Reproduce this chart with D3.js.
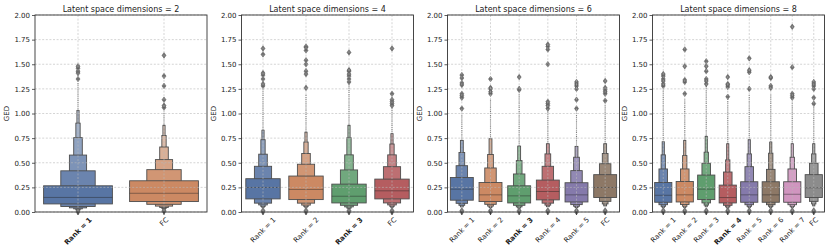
<!DOCTYPE html>
<html>
<head>
<meta charset="utf-8">
<script src="https://cdn.jsdelivr.net/npm/d3@7"></script>
<style>
  body { margin: 0; background: #fff; }
  svg { font-family: "DejaVu Sans", sans-serif; }
</style>
</head>
<body>
<svg id="chart" width="831" height="252"></svg>
<script>
// Latent space dimensions shown in each panel
const dims = [2, 4, 6, 8];

// Categories per panel (bold = best rank)
const cats_d2 = ["Rank = 1", "FC"];
const cats_d4 = ["Rank = 1", "Rank = 2", "Rank = 3", "FC"];
const cats_d6 = ["Rank = 1", "Rank = 2", "Rank = 3", "Rank = 4", "Rank = 5", "FC"];
const cats_d8 = ["Rank = 1", "Rank = 2", "Rank = 3", "Rank = 4", "Rank = 5", "Rank = 6", "Rank = 7", "FC"];
const boldCat = ["Rank = 1", "Rank = 3", "Rank = 3", "Rank = 4"];

// Medians
const median_d2 = [0.148, 0.19];
const median_d4 = [0.249, 0.229, 0.16, 0.215];
const median_d6 = [0.232, 0.174, 0.164, 0.208, 0.174, 0.249];
const median_d8 = [0.17, 0.174, 0.232, 0.147, 0.174, 0.174, 0.18, 0.246];

// Letter-value box upper edges (innermost box first)
const upper_d2 = [[0.266, 0.418, 0.578, 0.755, 0.902, 1.03], [0.317, 0.43, 0.532, 0.66, 0.777, 0.88]];
const upper_d4 = [[0.338, 0.464, 0.587, 0.734, 0.83], [0.365, 0.485, 0.594, 0.71, 0.81],
                  [0.283, 0.427, 0.58, 0.754, 0.88], [0.334, 0.46, 0.58, 0.69, 0.795]];
const upper_d6 = [[0.35, 0.47, 0.604, 0.727], [0.30, 0.447, 0.584, 0.744], [0.266, 0.386, 0.522, 0.669],
                  [0.324, 0.464, 0.59, 0.693], [0.297, 0.42, 0.556, 0.666], [0.379, 0.49, 0.594, 0.693]];
const upper_d8 = [[0.30, 0.437, 0.58, 0.713], [0.31, 0.437, 0.573, 0.727], [0.375, 0.495, 0.607, 0.768],
                  [0.273, 0.406, 0.529, 0.693], [0.307, 0.46, 0.59, 0.734], [0.307, 0.433, 0.597, 0.71],
                  [0.307, 0.437, 0.556, 0.693], [0.379, 0.495, 0.59, 0.693]];

// Letter-value box lower edges (innermost box first)
const lower_d2 = [[0.082, 0.056, 0.042, 0.032, 0.024, 0.018], [0.106, 0.078, 0.06, 0.046, 0.036, 0.028]];
const lower_d4 = [[0.133, 0.09, 0.072, 0.056, 0.044], [0.126, 0.09, 0.07, 0.055, 0.043],
                  [0.092, 0.068, 0.052, 0.04, 0.032], [0.133, 0.092, 0.072, 0.056, 0.044]];
const lower_d6 = [[0.12, 0.088, 0.068, 0.052], [0.106, 0.078, 0.06, 0.046], [0.092, 0.068, 0.052, 0.04],
                  [0.123, 0.09, 0.07, 0.054], [0.102, 0.075, 0.058, 0.045], [0.147, 0.108, 0.082, 0.062]];
const lower_d8 = [[0.099, 0.074, 0.057, 0.044], [0.102, 0.076, 0.058, 0.045], [0.126, 0.092, 0.07, 0.054],
                  [0.092, 0.068, 0.052, 0.04], [0.099, 0.074, 0.057, 0.044], [0.099, 0.074, 0.057, 0.044],
                  [0.099, 0.074, 0.057, 0.044], [0.147, 0.108, 0.082, 0.062]];

// Dense upper tail (tiny boxes) ends here
const tailTop_d2 = [1.32, 1.02];
const tailTop_d4 = [1.25, 1.2, 1.3, 1.05];
const tailTop_d6 = [1.0, 1.15, 1.2, 1.03, 1.0, 1.1];
const tailTop_d8 = [1.25, 1.15, 1.28, 1.15, 1.2, 1.2, 1.12, 1.1];

// Outliers (diamonds)
const outliers_d2 = [[1.35, 1.41, 1.43, 1.46, 1.48, 0.0, 0.012], [1.06, 1.08, 1.14, 1.28, 1.38, 1.59, 0.005, 0.018]];
const outliers_d4 = [[1.28, 1.30, 1.35, 1.39, 1.41, 1.60, 1.66, 0.0, 0.015],
                     [1.26, 1.40, 1.43, 1.50, 1.54, 1.64, 1.67, 1.68, 0.0, 0.015],
                     [1.32, 1.35, 1.38, 1.40, 1.43, 1.44, 1.62, 0.0, 0.015],
                     [1.08, 1.10, 1.12, 1.14, 1.20, 1.66, 0.0, 0.015]];
const outliers_d6 = [[1.05, 1.16, 1.18, 1.20, 1.29, 1.31, 1.36, 1.39, 0.0, 0.015],
                     [1.20, 1.22, 1.25, 1.26, 1.35, 0.0, 0.015],
                     [1.24, 1.25, 1.37, 0.0, 0.015],
                     [1.05, 1.08, 1.10, 1.12, 1.50, 1.65, 1.68, 1.70, 0.0, 0.015],
                     [1.05, 1.14, 1.25, 1.28, 1.30, 1.32, 0.0, 0.015],
                     [1.13, 1.20, 1.22, 1.24, 1.26, 1.33, 0.0, 0.015]];
const outliers_d8 = [[1.28, 1.30, 1.33, 1.35, 1.38, 1.40, 0.0, 0.015],
                     [1.20, 1.32, 1.34, 1.48, 1.65, 0.0, 0.015],
                     [1.30, 1.33, 1.35, 1.43, 1.48, 1.53, 0.0, 0.015],
                     [1.17, 1.27, 1.29, 1.30, 1.37, 0.0, 0.015],
                     [1.25, 1.42, 1.44, 1.56, 0.0, 0.015],
                     [1.26, 1.28, 1.36, 1.37, 0.0, 0.015],
                     [1.16, 1.18, 1.20, 1.47, 1.88, 0.0, 0.015],
                     [1.10, 1.16, 1.25, 1.28, 1.30, 1.32, 0.0, 0.015]];

const yTicks = [0, 0.25, 0.5, 0.75, 1.0, 1.25, 1.5, 1.75, 2.0];
// seaborn "deep" palette at saturation 0.75
const palette = ["#5875a4", "#cc8963", "#5f9e6e", "#b55d60", "#857aab", "#8d7866", "#d095bf", "#8c8c8c"];

const panels = [
  {cats: cats_d2, med: median_d2, up: upper_d2, lo: lower_d2, tail: tailTop_d2, out: outliers_d2},
  {cats: cats_d4, med: median_d4, up: upper_d4, lo: lower_d4, tail: tailTop_d4, out: outliers_d4},
  {cats: cats_d6, med: median_d6, up: upper_d6, lo: lower_d6, tail: tailTop_d6, out: outliers_d6},
  {cats: cats_d8, med: median_d8, up: upper_d8, lo: lower_d8, tail: tailTop_d8, out: outliers_d8}
];

const svg = d3.select("#chart");
const lefts = [35, 241.5, 447.5, 652.5];
const pw = 172;
const plotTop = 15, plotBottom = 212;

const y = d3.scaleLinear().domain([0, 2]).range([plotBottom, plotTop]);

panels.forEach((p, pi) => {
  const x = d3.scaleBand().domain(p.cats).range([lefts[pi], lefts[pi] + pw]);
  const g = svg.append("g");
  const bw = x.bandwidth() * 0.8;

  // boxes
  p.cats.forEach((c, ci) => {
    const cx = x(c) + x.bandwidth() / 2;
    const col = palette[ci];
    const cg = g.append("g");

    // upper tail of tiny boxes
    const ups = p.up[ci];
    cg.append("line")
      .attr("x1", cx).attr("x2", cx)
      .attr("y1", y(ups[ups.length - 1])).attr("y2", y(p.tail[ci]))
      .attr("stroke", "#7a7a7a").attr("stroke-width", 1.1)
      .attr("stroke-dasharray", "1,0.9");

    // draw outer levels first so inner ones sit on top
    for (let i = ups.length - 1; i >= 0; i--) {
      const w = bw / Math.pow(2, i);
      cg.append("rect")
        .attr("x", cx - w / 2)
        .attr("width", w)
        .attr("y", y(ups[i]))
        .attr("height", y(p.lo[ci][i]) - y(ups[i]))
        .attr("fill", d3.interpolateRgb(col, "#f4f4f4")(i * 0.12))
        .attr("stroke", "#4d4d4d")
        .attr("stroke-width", 0.9);
    }

    // median
    cg.append("line")
      .attr("x1", cx - bw / 2).attr("x2", cx + bw / 2)
      .attr("y1", y(p.med[ci])).attr("y2", y(p.med[ci]))
      .attr("stroke", "#262626").attr("stroke-opacity", 0.45).attr("stroke-width", 1);

    // outliers
    cg.selectAll("path.out")
      .data(p.out[ci])
      .enter().append("path")
      .attr("class", "out")
      .attr("d", v => {
        const yy = y(v);
        return `M${cx},${yy - 2.8}L${cx + 2},${yy}L${cx},${yy + 2.8}L${cx - 2},${yy}Z`;
      })
      .attr("fill", "#6e6e6e")
      .attr("stroke", "#555")
      .attr("stroke-width", 0.5);
  });

  // grid (drawn over the boxes)
  g.append("g").selectAll("line.h")
    .data(yTicks)
    .enter().append("line")
    .attr("x1", lefts[pi]).attr("x2", lefts[pi] + pw)
    .attr("y1", d => y(d)).attr("y2", d => y(d))
    .attr("stroke", "#b8b8b8").attr("stroke-width", 0.6)
    .attr("stroke-dasharray", "2,1.6");
  g.append("g").selectAll("line.v")
    .data(p.cats)
    .enter().append("line")
    .attr("x1", d => x(d) + x.bandwidth() / 2).attr("x2", d => x(d) + x.bandwidth() / 2)
    .attr("y1", plotTop).attr("y2", plotBottom)
    .attr("stroke", "#b8b8b8").attr("stroke-width", 0.6)
    .attr("stroke-dasharray", "2,1.6");

  // frame
  g.append("rect")
    .attr("x", lefts[pi]).attr("y", plotTop)
    .attr("width", pw).attr("height", plotBottom - plotTop)
    .attr("fill", "none").attr("stroke", "#333").attr("stroke-width", 0.9);

  // y axis
  const yAx = g.append("g")
    .attr("transform", `translate(${lefts[pi]},0)`)
    .call(d3.axisLeft(y).tickValues(yTicks).tickFormat(d3.format(".2f")).tickSize(3).tickPadding(2));
  yAx.select(".domain").remove();
  yAx.selectAll("line").attr("stroke", "#333").attr("stroke-width", 0.8);
  yAx.selectAll("text").attr("font-size", 7).attr("fill", "#222")
    .attr("font-family", "DejaVu Sans");

  // x ticks
  const xAx = g.append("g")
    .attr("transform", `translate(0,${plotBottom})`)
    .call(d3.axisBottom(x).tickSize(3).tickFormat(""));
  xAx.select(".domain").remove();
  xAx.selectAll("line").attr("stroke", "#333").attr("stroke-width", 0.8);

  // rotated category labels, bbox centred under the tick
  p.cats.forEach(c => {
    const cx = x(c) + x.bandwidth() / 2;
    const t = g.append("text")
      .attr("font-size", 7)
      .attr("fill", "#222")
      .attr("font-weight", c === boldCat[pi] ? "bold" : "normal")
      .attr("text-anchor", "middle")
      .attr("dy", "0.35em")
      .text(c);
    const w = t.node().getComputedTextLength();
    const h = 7;
    const cy = 216 + (w + h) * 0.3536;
    t.attr("transform", `translate(${cx},${cy}) rotate(-45)`);
  });

  // y label
  g.append("text")
    .attr("font-size", 7)
    .attr("fill", "#222")
    .attr("text-anchor", "middle")
    .attr("transform", `translate(${lefts[pi] - 26},${(plotTop + plotBottom) / 2}) rotate(-90)`)
    .text("GED");

  // title
  g.append("text")
    .attr("font-size", 8)
    .attr("fill", "#222")
    .attr("text-anchor", "middle")
    .attr("x", lefts[pi] + pw / 2)
    .attr("y", 11.5)
    .text(`Latent space dimensions = ${dims[pi]}`);
});
</script>
</body>
</html>
